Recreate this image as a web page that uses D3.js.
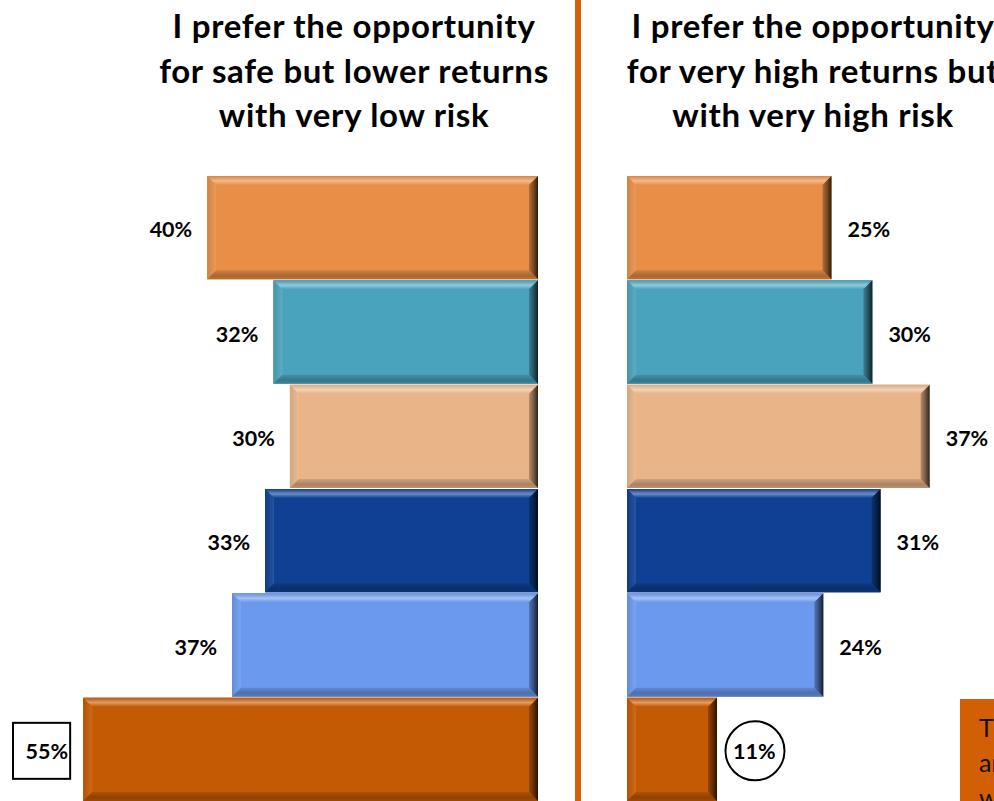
<!DOCTYPE html>
<html>
<head>
<meta charset="utf-8">
<script src="https://cdn.jsdelivr.net/npm/d3@7"></script>
<style>
  html, body { margin: 0; padding: 0; background: #ffffff; overflow: hidden; }
  svg { display: block; }
</style>
</head>
<body>
<svg id="chart" width="994" height="801"></svg>
<script>
// Survey segments, top to bottom
const segments = ["s1", "s2", "s3", "s4", "s5", "s6"];
// Share preferring safe, lower returns with very low risk (%)
const safeValues = [40, 32, 30, 33, 37, 55];
// Share preferring very high returns with very high risk (%)
const riskyValues = [25, 30, 37, 31, 24, 11];
const segmentColors = ["#E88E46", "#4AA3BC", "#E9B488", "#0E4194", "#6B99EE", "#C55A05"];

const leftTitle = ["I prefer the opportunity", "for safe but lower returns", "with very low risk"];
const rightTitle = ["I prefer the opportunity", "for very high returns but", "with very high risk"];
const noteLines = ["The", "and", "who"];

const W = 994, H = 801;
const svg = d3.select("#chart");
const defs = svg.append("defs");
const FONT = "Lato, 'Open Sans', sans-serif";

// Scales: left panel grows leftwards from a shared baseline, right panel grows rightwards
const y = d3.scaleBand().domain(segments).range([176, 802]).padding(0);
const xLeft = d3.scaleLinear().domain([0, 100]).range([538, 538 - 827]);
const xRight = d3.scaleLinear().domain([0, 100]).range([627, 627 + 818]);

// Gradients for bevel faces per colour
segmentColors.forEach((c, i) => {
  const base = d3.color(c);
  const light = d3.interpolateRgb(c, "#ffffff")(0.4);
  const dark = base.darker(0.9);
  const g1 = defs.append("linearGradient").attr("id", "top" + i).attr("x1", 0).attr("y1", 0).attr("x2", 0).attr("y2", 1);
  g1.append("stop").attr("offset", "0%").attr("stop-color", base.darker(0.2));
  g1.append("stop").attr("offset", "55%").attr("stop-color", light);
  g1.append("stop").attr("offset", "100%").attr("stop-color", c);
  const g2 = defs.append("linearGradient").attr("id", "bot" + i).attr("x1", 0).attr("y1", 0).attr("x2", 0).attr("y2", 1);
  g2.append("stop").attr("offset", "0%").attr("stop-color", base.darker(0.3));
  g2.append("stop").attr("offset", "60%").attr("stop-color", dark);
  g2.append("stop").attr("offset", "100%").attr("stop-color", base.darker(0.6));
  const g3 = defs.append("linearGradient").attr("id", "rgt" + i).attr("x1", 0).attr("y1", 0).attr("x2", 1).attr("y2", 0);
  g3.append("stop").attr("offset", "0%").attr("stop-color", base.darker(0.7));
  g3.append("stop").attr("offset", "55%").attr("stop-color", base.darker(2.0));
  g3.append("stop").attr("offset", "100%").attr("stop-color", base.darker(4.5));
  const g4 = defs.append("linearGradient").attr("id", "lft" + i).attr("x1", 0).attr("y1", 0).attr("x2", 1).attr("y2", 0);
  g4.append("stop").attr("offset", "0%").attr("stop-color", base.darker(0.25));
  g4.append("stop").attr("offset", "100%").attr("stop-color", d3.interpolateRgb(c, "#ffffff")(0.1));
});

// Draws one bevelled bar between x0 and x1
function bevelBar(g, x0, x1, y0, y1, i) {
  const b = 9;
  const c = segmentColors[i];
  const bar = g.append("g");
  bar.append("rect").attr("x", x0).attr("y", y0).attr("width", x1 - x0).attr("height", y1 - y0).attr("fill", c);
  const pts = a => a.map(p => p.join(",")).join(" ");
  bar.append("polygon").attr("points", pts([[x0, y0], [x0 + b, y0 + b], [x0 + b, y1 - b], [x0, y1]])).attr("fill", `url(#lft${i})`);
  bar.append("polygon").attr("points", pts([[x0, y0], [x1, y0], [x1 - b, y0 + b], [x0 + b, y0 + b]])).attr("fill", `url(#top${i})`);
  bar.append("polygon").attr("points", pts([[x0, y1], [x1, y1], [x1 - b, y1 - b], [x0 + b, y1 - b]])).attr("fill", `url(#bot${i})`);
  bar.append("polygon").attr("points", pts([[x1, y0], [x1 - b, y0 + b], [x1 - b, y1 - b], [x1, y1]])).attr("fill", `url(#rgt${i})`);
}

const leftG = svg.append("g");
const rightG = svg.append("g");

segments.forEach((s, i) => {
  const y0 = y(s), y1 = y(s) + y.bandwidth() - 1;
  bevelBar(leftG, xLeft(safeValues[i]), xLeft(0), y0, y1, i);
  bevelBar(rightG, xRight(0), xRight(riskyValues[i]), y0, y1, i);
});

// Value labels
const labelStyle = sel => sel.attr("font-family", FONT).attr("font-weight", 700)
  .attr("font-size", 21.5).attr("fill", "#000").attr("dominant-baseline", "central");

segments.forEach((s, i) => {
  const cy = y(s) + y.bandwidth() / 2 + 1;
  labelStyle(leftG.append("text").attr("x", xLeft(safeValues[i]) - 15).attr("y", cy)
    .attr("text-anchor", "end").text(safeValues[i] + "%"));
  labelStyle(rightG.append("text").attr("x", xRight(riskyValues[i]) + 16).attr("y", cy)
    .attr("text-anchor", "start").text(riskyValues[i] + "%"));
});

// Highlight the largest safe share with a box and the smallest risky share with a circle
{
  const last = segments.length - 1;
  const cy = y(segments[last]) + y.bandwidth() / 2 + 1;
  const xr = xLeft(safeValues[last]) - 13;
  leftG.insert("rect", "text").attr("x", 13).attr("y", cy - 28).attr("width", xr - 13).attr("height", 56)
    .attr("fill", "#fff").attr("stroke", "#000").attr("stroke-width", 2);
  const xc = xRight(riskyValues[last]) + 38;
  rightG.insert("circle", "text").attr("cx", xc).attr("cy", cy).attr("r", 29.5)
    .attr("fill", "#fff").attr("stroke", "#000").attr("stroke-width", 2);
}

// Panel titles
function title(lines, cx) {
  svg.append("g").selectAll("text").data(lines).join("text")
    .attr("x", cx).attr("y", (d, k) => 38 + k * 44.5)
    .attr("text-anchor", "middle").attr("font-family", FONT).attr("font-weight", 700)
    .attr("font-size", 33).attr("letter-spacing", 0.7).attr("fill", "#000").text(d => d);
}
title(leftTitle, 354);
title(rightTitle, 813);

// Divider between panels
svg.append("rect").attr("x", 575).attr("y", 0).attr("width", 6).attr("height", H).attr("fill", "#D4600A");

// Side note box
const note = svg.append("g");
note.append("rect").attr("x", 960).attr("y", 699).attr("width", 200).attr("height", 200).attr("fill", "#D35F04");
note.selectAll("text").data(noteLines).join("text")
  .attr("x", 979).attr("y", (d, k) => 737 + k * 35)
  .attr("font-family", FONT).attr("font-size", 25).attr("fill", "#111").text(d => d);
</script>
</body>
</html>
